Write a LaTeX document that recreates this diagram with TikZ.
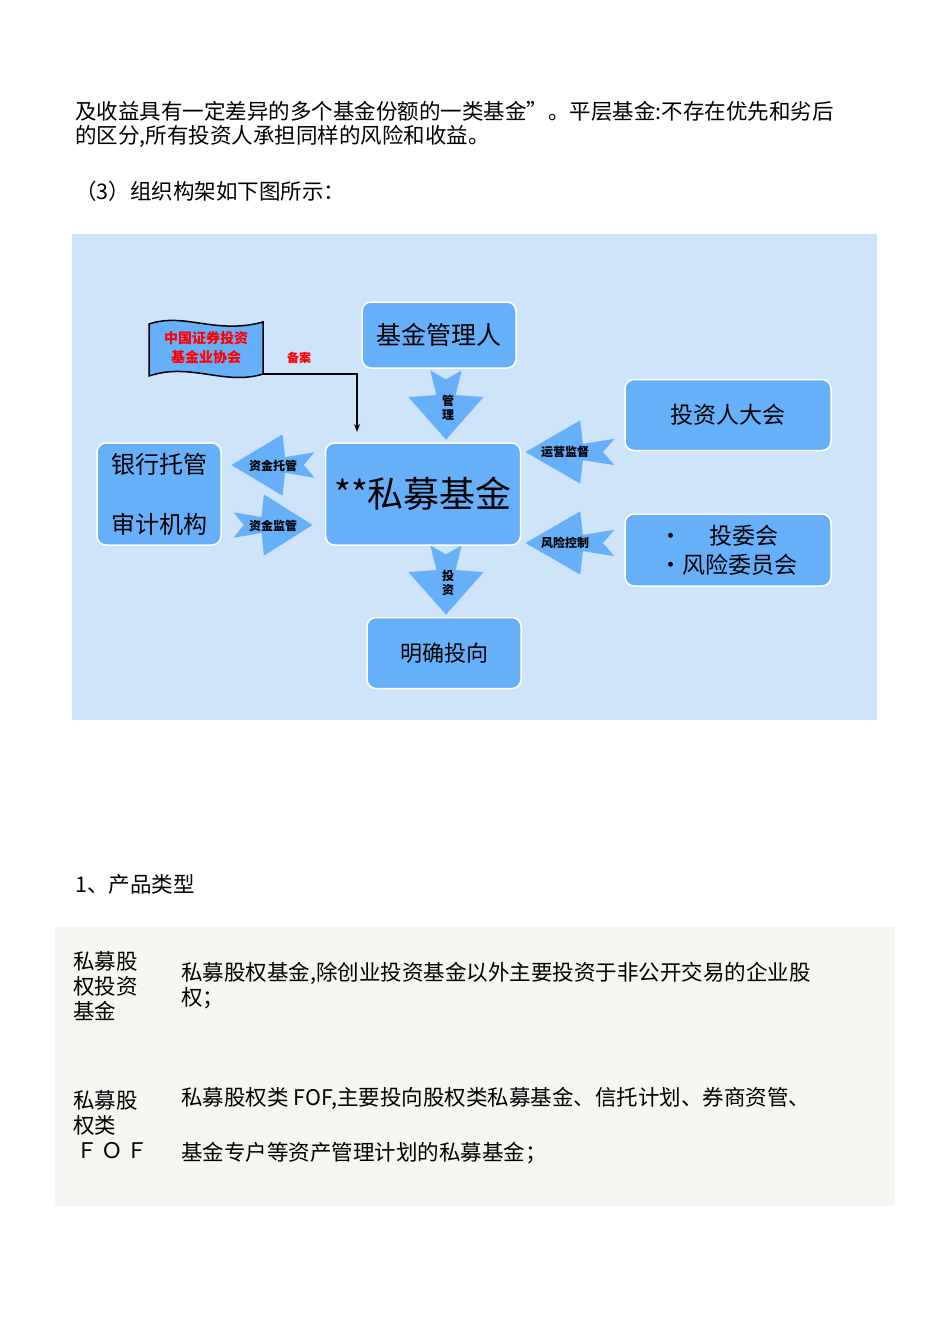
\documentclass[tikz,border=0pt]{standalone}
\usepackage{fontspec}
\usetikzlibrary{arrows.meta}
\setmainfont{Noto Sans CJK SC}
\begin{document}
\begin{tikzpicture}[x=1pt,y=-1pt,
  bx/.style={draw=white,line width=1.5pt,fill=boxblue,rounded corners=9pt,inner sep=0pt},
  lab/.style={font=\fontsize{12}{13}\selectfont\bfseries,inner sep=0pt},
  txt/.style={anchor=west,inner sep=0pt,font=\fontsize{21.5}{25}\selectfont}]
\definecolor{boxblue}{RGB}{102,176,250}
\definecolor{bgblue}{RGB}{206,228,250}
\definecolor{tbl}{RGB}{246,245,241}
\useasboundingbox (0,0) rectangle (950,1344);
\fill[white] (0,0) rectangle (950,1344);
% text
\node[txt] (p1) at (75,111) {及收益具有一定差异的多个基金份额的一类基金”。平层基金:不存在优先和劣后};
\node[txt] (p2) at (75,136) {的区分,所有投资人承担同样的风险和收益。};
\node[txt] (p3) at (75,191) {（3）组织构架如下图所示：};
% diagram bg
\fill[bgblue] (72,234) rectangle (877,720);
\newcommand{\fatarrow}[5]{% cx cy rot a b
 \begin{scope}[shift={(#1,#2)},rotate=#3,xscale=#4,yscale=#5]
 \filldraw[fill=boxblue,draw=white,line width=1.2pt/#5]
   (-1,-0.42)--(-0.74,0)--(-1,0.42)--(-0.29,0.26)--(-0.23,1)--(1,0)--(-0.23,-1)--(-0.29,-0.26)--cycle;
 \end{scope}}
\fatarrow{446}{405}{-90}{35}{38}
\fatarrow{446}{580}{-90}{35}{38}
\fatarrow{273}{465}{180}{42}{31}
\fatarrow{273}{525}{0}{40}{31}
\fatarrow{570}{452}{180}{45}{32}
\fatarrow{570}{543}{180}{45}{32}
\node[lab,align=center,font=\fontsize{12}{14}\selectfont\bfseries] (l1) at (448,408) {管\\理};
\node[lab,align=center,font=\fontsize{12}{14}\selectfont\bfseries] (l2) at (448,583) {投\\资};
\node[lab] (l3) at (273,466) {资金托管};
\node[lab] (l4) at (273,526) {资金监管};
\node[lab] (l5) at (565,452) {运营监督};
\node[lab] (l6) at (565,543) {风险控制};
% boxes
\node[bx,minimum width=154pt,minimum height=66pt,font=\fontsize{25}{27}\selectfont] (mgr) at (439,335) {基金管理人};
\node[bx,minimum width=206pt,minimum height=71pt,font=\fontsize{23}{25}\selectfont] (inv) at (728,415) {投资人大会};
\node[bx,minimum width=195pt,minimum height=102pt,font=\fontsize{36}{38}\selectfont] (fund) at (423,494) {**私募基金};
\node[bx,minimum width=124pt,minimum height=102pt,align=center,font=\fontsize{24}{60}\selectfont] (bank) at (159,494) {银行托管\\审计机构};
\node[bx,minimum width=206pt,minimum height=72pt,align=left,font=\fontsize{23}{29}\selectfont] (com) at (728,550) {·\hspace{28pt}投委会\\·风险委员会};
\node[bx,minimum width=154pt,minimum height=71pt,font=\fontsize{22}{24}\selectfont] (dir) at (444,653) {明确投向};
% flag
\filldraw[fill=boxblue,draw=black,line width=1.5pt] (149,324) .. controls (185,312) and (215,335) .. (263,322) -- (263,374) .. controls (225,386) and (190,362) .. (149,376) -- cycle;
\node[font=\fontsize{14}{19}\selectfont\bfseries,text=red,align=center] (flag) at (206,348) {中国证券投资\\基金业协会};
\node[font=\fontsize{12}{13}\selectfont\bfseries,text=red] (rec) at (299,358) {备案};
\coordinate (fr) at (263,374);
\draw[line width=1.5pt,-{Stealth[length=8pt]}] (fr) -| (357,432);
% bottom
\node[txt] (h1) at (75,884) {1、产品类型};
\fill[tbl] (55,927) rectangle (895,1206);
\node[txt,align=left] (c1) at (73,986) {私募股\\权投资\\基金};
\node[txt,align=left] (d1) at (181,986) {私募股权基金,除创业投资基金以外主要投资于非公开交易的企业股\\权；};
\node[txt,align=left] (c2) at (73,1125) {私募股\\权类\\\,Ｆ\,Ｏ\,Ｆ};
\node[txt] (d2a) at (181,1098) {私募股权类 FOF,主要投向股权类私募基金、信托计划、券商资管、};
\node[txt] (d2b) at (181,1153) {基金专户等资产管理计划的私募基金；};
\end{tikzpicture}
\end{document}
